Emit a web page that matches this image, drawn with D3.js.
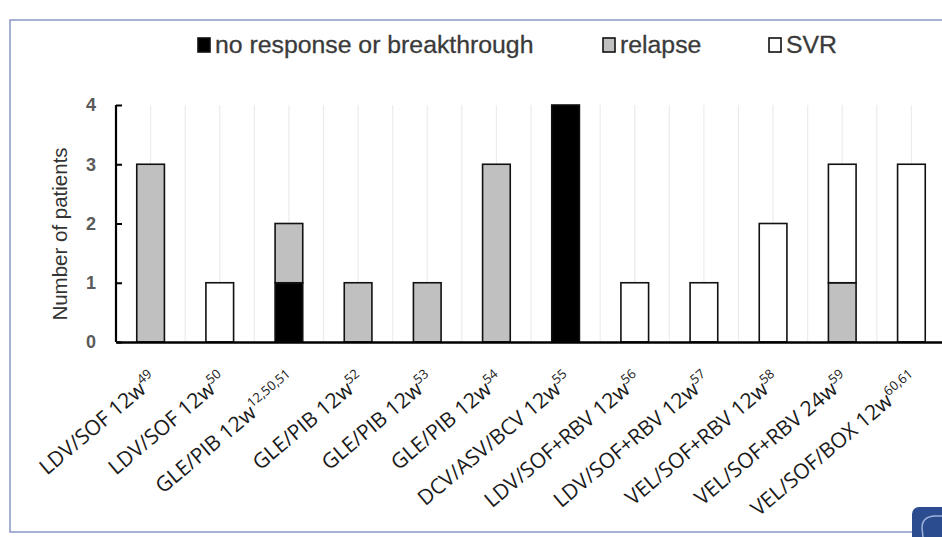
<!DOCTYPE html>
<html><head><meta charset="utf-8">
<script src="https://cdn.jsdelivr.net/npm/d3@7"></script>
<style>html,body{margin:0;padding:0;background:#fff;overflow:hidden}svg{display:block}</style>
</head><body><svg id="c" width="942" height="537"></svg>
<script>
const regimens = ["LDV/SOF 12w","LDV/SOF 12w","GLE/PIB 12w","GLE/PIB 12w","GLE/PIB 12w","GLE/PIB 12w","DCV/ASV/BCV 12w","LDV/SOF+RBV 12w","LDV/SOF+RBV 12w","VEL/SOF+RBV 12w","VEL/SOF+RBV 24w","VEL/SOF/BOX 12w"];
const refs = ["49","50","12,50,51","52","53","54","55","56","57","58","59","60,61"];
const noResponse = [0,0,1,0,0,0,4,0,0,0,0,0];
const relapse    = [3,0,1,1,1,3,0,0,0,0,1,0];
const svr        = [0,1,0,0,0,0,0,1,1,2,2,3];
const seriesNames = ["no response or breakthrough","relapse","SVR"];
const yTicks = [0,1,2,3,4];

const colors = {"no response or breakthrough":"#000000","relapse":"#c0c0c0","SVR":"#ffffff"};
const svg = d3.select("#c");
const ids = regimens.map((d,i)=>i);
const rows = ids.map(i=>({id:i,"no response or breakthrough":noResponse[i],"relapse":relapse[i],"SVR":svr[i]}));

// frame
svg.append("rect").attr("x",10).attr("y",20).attr("width",1000).attr("height",512)
  .attr("fill","none").attr("stroke","#8896c8").attr("stroke-width",1.5);

const x = d3.scaleBand().domain(ids).range([116,946]).padding(0);
const y = d3.scaleLinear().domain([0,4]).range([342,105]);
const bw = x.bandwidth()*0.4;

// gridlines at centers and boundaries
const g = svg.append("g");
ids.forEach(i=>{
  [x(i), x(i)+x.bandwidth()/2].forEach(gx=>{
    if (gx>118) g.append("line").attr("x1",gx).attr("x2",gx).attr("y1",y(4)).attr("y2",y(0))
      .attr("stroke","#ececec").attr("stroke-width",1.2);
  });
});

// bars
const stack = d3.stack().keys(seriesNames)(rows);
svg.append("g").selectAll("g").data(stack).join("g")
  .attr("fill",d=>colors[d.key])
  .selectAll("rect").data(d=>d.filter(p=>p[1]-p[0]>0)).join("rect")
  .attr("x",d=>x(d.data.id)+(x.bandwidth()-bw)/2)
  .attr("width",bw)
  .attr("y",d=>y(d[1]))
  .attr("height",d=>y(d[0])-y(d[1]))
  .attr("stroke","#111").attr("stroke-width",1.6);

// y axis
const yAx = svg.append("g").attr("transform","translate(116,0)")
  .call(d3.axisLeft(y).tickValues(yTicks).tickFormat(d3.format("d")).tickSize(-6).tickPadding(20));
yAx.select(".domain").attr("stroke","#000").attr("stroke-width",2.2).attr("d","M0,"+y(4)+"V"+y(0));
yAx.selectAll(".tick line").attr("stroke","#000").attr("stroke-width",2);
yAx.selectAll(".tick text").attr("font-family","Liberation Sans, Arial, sans-serif")
  .attr("font-size",18).attr("font-weight","bold").attr("fill","#5a5a5a");

// x axis
const xAx = svg.append("g").attr("transform","translate(0,"+y(0)+")")
  .call(d3.axisBottom(x).tickSize(0).tickFormat(""));
xAx.select(".domain").attr("stroke","#000").attr("stroke-width",2.5);

// x labels
const lab = svg.append("g");
ids.forEach(i=>{
  const cx = x(i)+x.bandwidth()/2;
  const t = lab.append("text")
    .attr("transform",`translate(${cx+8},382) rotate(-40)`)
    .attr("text-anchor","end")
    .attr("font-family","'Open Sans', 'Noto Sans', sans-serif")
    .attr("font-size",21).attr("fill","#1a1a1a");
  t.append("tspan").text(regimens[i]);
  t.append("tspan").attr("font-size",13).attr("dy",-9).text(refs[i]);
});

// y title
svg.append("text").attr("transform","translate(67,234) rotate(-90)")
  .attr("text-anchor","middle").attr("font-family","Liberation Sans, Arial, sans-serif")
  .attr("font-size",20.5).attr("fill","#333").text("Number of patients");

// legend
const legX = [198,603,769];
const leg = svg.append("g");
seriesNames.forEach((s,k)=>{
  leg.append("rect").attr("x",legX[k]).attr("y",38).attr("width",12).attr("height",14)
    .attr("fill",colors[s]).attr("stroke","#111").attr("stroke-width",1.6);
  leg.append("text").attr("x",legX[k]+17).attr("y",53)
    .attr("font-family","Liberation Sans, Arial, sans-serif").attr("font-size",24.8)
    .attr("fill","#3a3a3a").attr("stroke","#3a3a3a").attr("stroke-width",0.3).text(s);
});

// corner badge
svg.append("rect").attr("x",912).attr("y",507).attr("width",44).attr("height",44).attr("rx",7)
  .attr("fill","#2b4d8f");
svg.append("path").attr("d","M922,528 q0,-11 12,-12 l12,0 l0,30 l-22,0 z")
  .attr("fill","none").attr("stroke","#9fb3dc").attr("stroke-width",1.5);
</script></body></html>
